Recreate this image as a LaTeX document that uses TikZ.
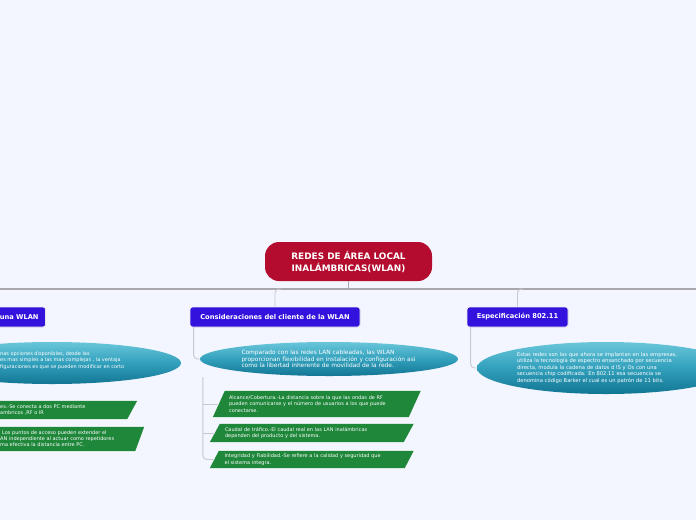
\documentclass[tikz,border=0pt]{standalone}
\usepackage{fontspec}
\setmainfont{DejaVu Sans}
\usetikzlibrary{shapes.geometric,calc}
\pgfdeclarelayer{page}
\pgfdeclarelayer{shp}
\pgfsetlayers{page,shp,main}
\definecolor{bgc}{RGB}{243,246,254}
\definecolor{rootred}{RGB}{180,12,46}
\definecolor{topicblue}{RGB}{52,18,222}
\definecolor{grn}{RGB}{31,135,58}
\definecolor{barc}{RGB}{168,168,172}
\definecolor{brc}{RGB}{200,200,208}
\definecolor{ellt}{RGB}{105,198,218}
\definecolor{ellm}{RGB}{50,160,188}
\definecolor{ellb}{RGB}{18,118,148}
\newcommand\parabg[2]{\begin{pgfonlayer}{shp}\fill[grn] ($(#1.north west)+(#2,0)$) -- ($(#1.north east)+(#2,0)$) -- ($(#1.south east)-(#2,0)$) -- ($(#1.south west)-(#2,0)$) -- cycle;\end{pgfonlayer}}
\begin{document}
\begin{tikzpicture}[x=1pt,y=-1pt,
  root/.style={fill=rootred, rounded corners=14pt, minimum width=167pt, minimum height=39pt, text=white, font=\bfseries\fontsize{8.9}{12}\selectfont, align=center, inner sep=0pt},
  topic/.style={fill=topicblue, draw=white!82!gray, line width=0.8pt, rounded corners=2.5pt, minimum height=20pt, text=white, font=\bfseries\fontsize{6.7}{8}\selectfont, inner sep=0pt},
  ell/.style={ellipse, top color=ellt, bottom color=ellb, middle color=ellm, text=white, align=left, inner sep=0pt},
  para/.style={inner xsep=10pt, inner ysep=0pt, align=left, text=white, font=\fontsize{5}{6.3}\selectfont},
  ltxt/.style={anchor=west, inner sep=0pt, align=left, text=white},
  bar/.style={draw=barc, line width=1.4pt},
  branch/.style={draw=brc, line width=0.9pt}]
\useasboundingbox (0,0) rectangle (696,520);
\begin{pgfonlayer}{page}
\fill[bgc] (0,0) rectangle (696,520);
\end{pgfonlayer}
\coordinate (barL) at (0,289);
\coordinate (barR) at (696,289);
% root
\node[root] (root) at (348.5,261.5) {REDES DE ÁREA LOCAL\\INALÁMBRICAS(WLAN)};
% topics
\node[topic, anchor=east, text width=86pt, align=right, inner xsep=7pt] (topo) at (46,317) {una WLAN};
\node[topic, minimum width=170pt] (cons) at (275,317) {Consideraciones del cliente de la WLAN};
\node[topic, minimum width=101pt] (esp) at (517.5,317) {Especificación 802.11};
% ellipses
\node[ell, minimum width=258pt, minimum height=42pt] (e1) at (52,363) {};
\node[ltxt, font=\fontsize{5}{6.8}\selectfont] (e1t) at (0,360.5) {nas opciones disponibles, desde las\\es mas simples a las mas complejas , la ventaja\\figuraciones es que se pueden modificar en corto};
\node[ell, minimum width=258pt, minimum height=34pt, text width=175pt, font=\fontsize{5.9}{6.6}\selectfont] (e2) at (329,359) {Comparado con las redes LAN cableadas, las WLAN\\proporcionan flexibilidad en instalación y configuración así\\como la libertad inherente de movilidad de la rede.};
\node[ell, minimum width=258pt, minimum height=52pt, text width=178pt, font=\fontsize{5.2}{6.5}\selectfont] (e3) at (606,368) {Estas redes son las que ahora se implantan en las empresas,\\utiliza la tecnología de espectro ensanchado por secuencia\\directa, modula la cadena de datos d lS y Os con una\\secuencia chip codificada. En 802.11 esa secuencia se\\denomina código Barker el cual es un patrón de 11 bits.};
% green parallelograms (consideraciones)
\node[para, minimum height=26pt, text width=175.5pt] (p1) at (316.75,404) {Alcance/Cobertura.-La distancia sobre la que las ondas de RF\\pueden comunicarse y el número de usuarios a los que puede\\conectarse.};
\parabg{p1}{6}
\node[para, minimum height=18pt, text width=173.5pt] (p2) at (311.75,433) {Caudal de tráfico.-El caudal real en las LAN  inalámbricas\\dependen del producto y del sistema.};
\parabg{p2}{5}
\node[para, minimum height=17pt, text width=174.5pt] (p3) at (311.75,459.5) {Integridad y Fiabilidad.-Se refiere a la calidad y seguridad que\\el sistema integra.};
\parabg{p3}{4.5}
% green parallelograms (left, cut off)
\node[minimum width=200pt, minimum height=18pt, inner sep=0pt] (q1) at (32,410) {};
\parabg{q1}{5}
\node[ltxt, font=\fontsize{5}{6.3}\selectfont] (q1t) at (0,410) {es.-Se conecta a dos PC mediante\\ambricos ,RF o IR};
\node[minimum width=200pt, minimum height=24pt, inner sep=0pt] (q2) at (39.5,439) {};
\parabg{q2}{4.5}
\node[ltxt, font=\fontsize{5}{6.3}\selectfont] (q2t) at (0,438.5) {\hspace*{2pt}Los puntos de acceso pueden extender el\\AN independiente al actuar como repetidores\\ma efectiva la distancia entre PC.};
% connectors
\draw[bar] (barL) -- (barR);
\draw[bar] (root.south) -- (root.south |- barL);
\draw[branch, rounded corners=4pt] ([xshift=6pt]cons.north |- barL) -| (cons.north);
\draw[branch, rounded corners=4pt] ([xshift=6pt]esp.north |- barL) -| (esp.north);
\draw[branch, rounded corners=4pt] ([xshift=4pt]cons.south west) |- (e2.west);
\draw[branch, rounded corners=4pt] ([xshift=4pt]esp.south west) |- (e3.west);
\coordinate (v0) at ($(e2.west |- e2.south)+(3,1)$);
\draw[branch, rounded corners=4pt] (v0) |- (p3.west);
\draw[branch] (v0 |- p1.west) -- (p1.west);
\draw[branch] (v0 |- p2.west) -- (p2.west);
\end{tikzpicture}
\end{document}
